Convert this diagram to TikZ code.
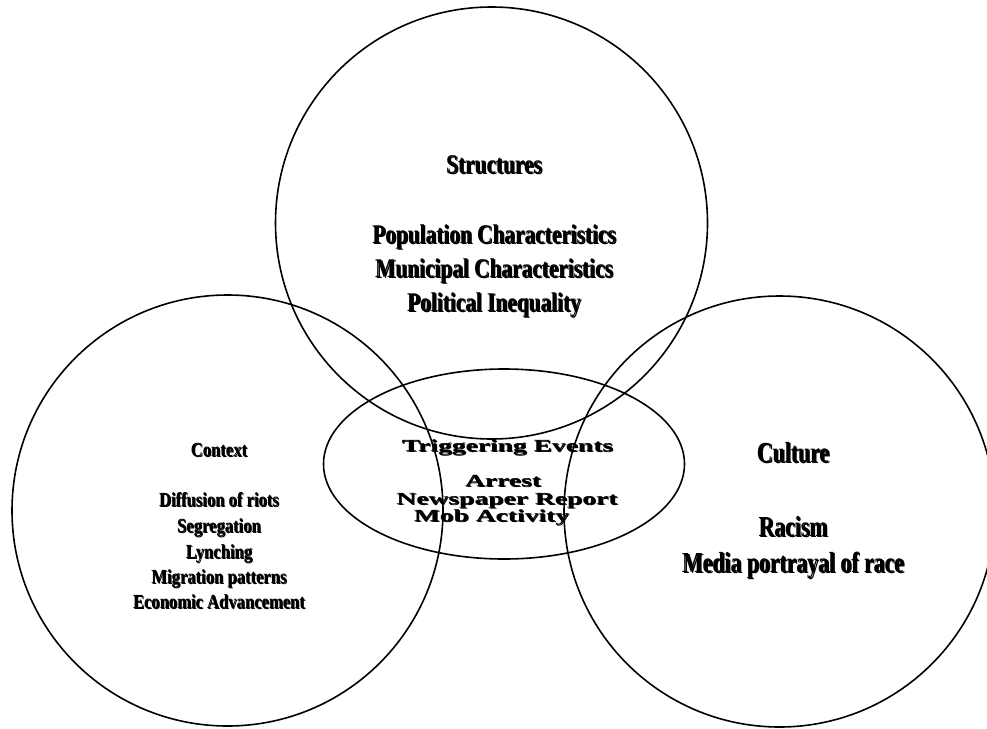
\documentclass[tikz,border=0pt]{standalone}
\usepackage{fontspec}
\setmainfont{Liberation Serif}
\newfontfamily\fontStruct[FakeStretch=0.79]{Liberation Serif}
\newfontfamily\fontCtx[FakeStretch=0.83]{Liberation Serif}
\newfontfamily\fontCult[FakeStretch=0.75]{Liberation Serif}
\newfontfamily\fontTrig[FakeStretch=1.62]{Liberation Serif}
% text with a drop shadow (offset copy underneath)
\newcommand{\shtx}[2]{\makebox[0pt][l]{\hspace*{#1}\raisebox{-#1}{#2}}#2}
\begin{document}
\begin{tikzpicture}[x=1pt,y=-1pt,
  ring/.style={draw=black, line width=1.6pt},
  lbl/.style={anchor=base, inner sep=0pt, text=black},
  fStruct/.style={font=\fontStruct\bfseries\fontsize{27}{32}\selectfont},
  fCtx/.style={font=\fontCtx\bfseries\fontsize{20}{24}\selectfont},
  fCult/.style={font=\fontCult\bfseries\fontsize{29}{34}\selectfont},
  fTrig/.style={font=\fontTrig\bfseries\fontsize{17}{18}\selectfont}]
\useasboundingbox (0,0) rectangle (987,728);
\clip (0,0) rectangle (987,728);
\fill[white] (0,0) rectangle (987,728);
% circles
\draw[ring] (491.5,223) circle[radius=216];
\draw[ring] (227.5,510.5) circle[radius=215.5];
\draw[ring] (779.5,511.5) circle[radius=215.5];
\draw[ring] (504,464) ellipse[x radius=180.5, y radius=95];
% Structures
\node[lbl,fStruct] (s0) at (494,173) {\shtx{1.3pt}{Structures}};
\node[lbl,fStruct] (s1) at (494,243) {\shtx{1.3pt}{Population Characteristics}};
\node[lbl,fStruct] (s2) at (494,277) {\shtx{1.3pt}{Municipal Characteristics}};
\node[lbl,fStruct] (s3) at (494,311) {\shtx{1.3pt}{Political Inequality}};
% Context
\node[lbl,fCtx] (c0) at (219,456) {\shtx{1pt}{Context}};
\node[lbl,fCtx] (c1) at (219,506) {\shtx{1pt}{Diffusion of riots}};
\node[lbl,fCtx] (c2) at (219,532) {\shtx{1pt}{Segregation}};
\node[lbl,fCtx] (c3) at (219,558) {\shtx{1pt}{Lynching}};
\node[lbl,fCtx] (c4) at (219,583) {\shtx{1pt}{Migration patterns}};
\node[lbl,fCtx] (c5) at (219,608) {\shtx{1pt}{Economic Advancement}};
% Culture
\node[lbl,fCult] (u0) at (793,462) {\shtx{1.4pt}{Culture}};
\node[lbl,fCult] (u1) at (793,536) {\shtx{1.4pt}{Racism}};
\node[lbl,fCult] (u2) at (793,572) {\shtx{1.4pt}{Media portrayal of race}};
% Triggering events
\node[lbl,fTrig] (t0) at (507.5,451.5) {\shtx{1pt}{Triggering Events}};
\node[lbl,fTrig] (t1) at (503,486.5) {\shtx{1pt}{Arrest}};
\node[lbl,fTrig] (t2) at (507,504) {\shtx{1pt}{Newspaper Report}};
\node[lbl,fTrig] (t3) at (491.5,521.5) {\shtx{1pt}{Mob Activity}};
\end{tikzpicture}
\end{document}
